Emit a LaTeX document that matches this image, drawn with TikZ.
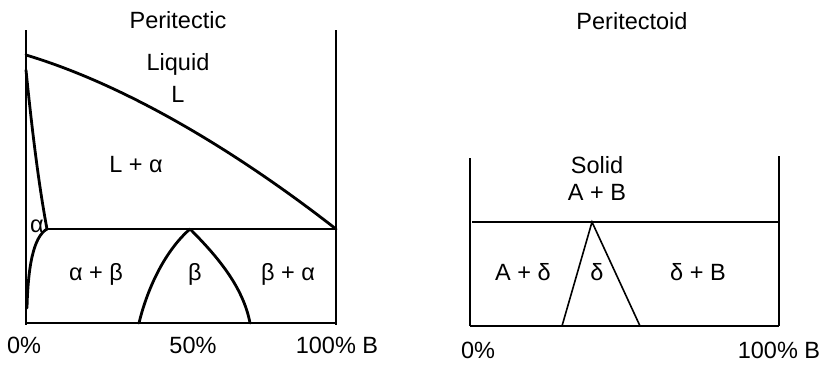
\documentclass[tikz,border=0pt]{standalone}
\usepackage{fontspec}
\setmainfont{Liberation Sans}
\begin{document}
\begin{tikzpicture}[x=1pt,y=-1pt,
  lbl/.style={font=\fontsize{23.5}{26}\selectfont, inner sep=0pt, anchor=center},
  axis/.style={line width=1.3pt},
  curve/.style={line width=2.8pt, line cap=round, line join=round},
  thin/.style={line width=1.6pt, line join=miter}]
\useasboundingbox (0,0) rectangle (821,365);
% ---------- Peritectic ----------
\coordinate (LT) at (26,30);
\coordinate (LB) at (26,325);
\coordinate (RT) at (336,30);
\coordinate (RB) at (336,325);
\coordinate (BL) at (27,323);
\coordinate (BR) at (336,323);
\coordinate (Ltop) at (26,55);
\coordinate (Pend) at (336,229);
\coordinate (Atop) at (26,70);
\coordinate (Pj) at (47,229);
\coordinate (Abot) at (27,308);
\coordinate (Bap) at (190,229);
\coordinate (BfL) at (139,323);
\coordinate (BfR) at (250,323);
\draw[axis] (LT) -- (LB);
\draw[axis] (RT) -- (RB);
\draw[thin] (BL) -- (BR);
\draw[curve] (Ltop) .. controls (126,85) and (236,151) .. (Pend);
\draw[curve] (Pj) -- (Pend);
\draw[curve] (Atop) .. controls (33,140) and (40,192) .. (Pj);
\draw[curve] (Pj) .. controls (33,237) and (28,268) .. (Abot);
\draw[curve] (Bap) .. controls (166,250) and (148,286) .. (BfL);
\draw[curve] (Bap) .. controls (216,255) and (243,286) .. (BfR);
\node[lbl] (t1) at (178,20) {Peritectic};
\node[lbl] (liq) at (178,64) {Liquid};
\node[lbl] (L) at (178,94) {L};
\node[lbl] (La) at (136,165) {L + α};
\node[lbl] (a) at (37,226) {α};
\node[lbl] (ab) at (96,274) {α + β};
\node[lbl] (b) at (195,274) {β};
\node[lbl] (ba) at (288,274) {β + α};
\node[lbl] (x0) at (24,345) {0\%};
\node[lbl] (x50) at (193,345) {50\%};
\node[lbl] (x100) at (337,345) {100\% B};
% ---------- Peritectoid ----------
\coordinate (QLT) at (470,158);
\coordinate (QLB) at (470,326);
\coordinate (QRT) at (779,156);
\coordinate (QRB) at (779,326);
\coordinate (Qtl) at (472,222);
\coordinate (Qtr) at (779,222);
\coordinate (Qbl) at (470,326);
\coordinate (Qbr) at (779,326);
\coordinate (Dap) at (592,222);
\coordinate (DfL) at (562,326);
\coordinate (DfR) at (640,326);
\draw[axis] (QLT) -- (QLB);
\draw[axis] (QRT) -- (QRB);
\draw[line width=2.3pt] (Qtl) -- (Qtr);
\draw[line width=1.9pt] (Qbl) -- (Qbr);
\draw[thin] (DfL) -- (Dap) -- (DfR);
\node[lbl] (t2) at (632,21) {Peritectoid};
\node[lbl] (sol) at (597,165) {Solid};
\node[lbl] (AB) at (597,192) {A + B};
\node[lbl] (Ad) at (523,272) {A + δ};
\node[lbl] (d) at (597,272) {δ};
\node[lbl] (dB) at (698,272) {δ + B};
\node[lbl] (y0) at (478,350) {0\%};
\node[lbl] (y100) at (779,350) {100\% B};
\end{tikzpicture}
\end{document}
